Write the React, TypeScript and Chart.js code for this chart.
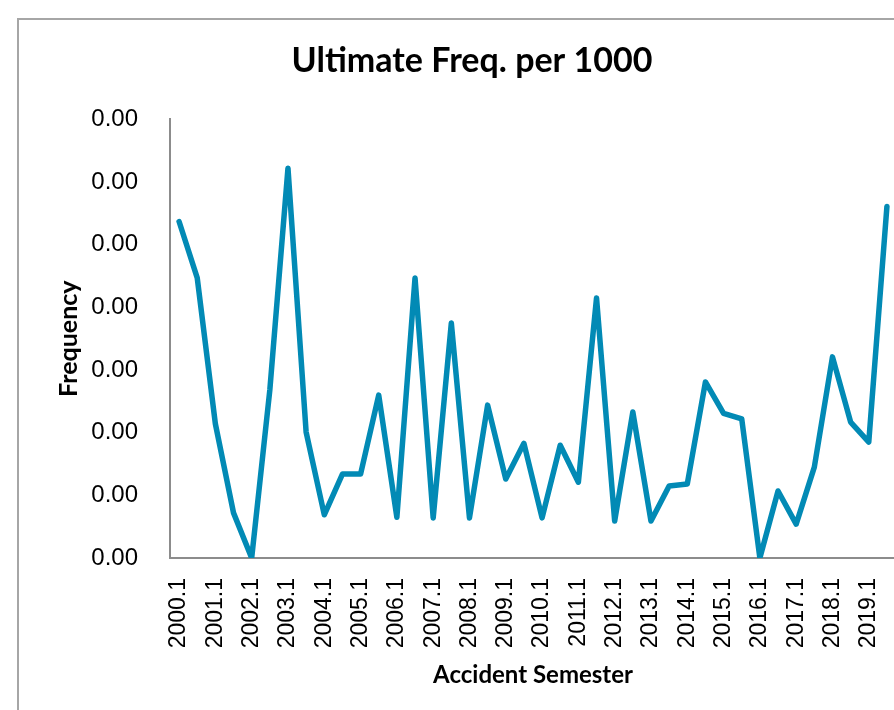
import React, { useEffect, useRef } from "react";
import { Chart, registerables } from "chart.js";

Chart.register(...registerables);

const semesters: string[] = [
  "2000.1", "2000.2", "2001.1", "2001.2", "2002.1", "2002.2", "2003.1", "2003.2",
  "2004.1", "2004.2", "2005.1", "2005.2", "2006.1", "2006.2", "2007.1", "2007.2",
  "2008.1", "2008.2", "2009.1", "2009.2", "2010.1", "2010.2", "2011.1", "2011.2",
  "2012.1", "2012.2", "2013.1", "2013.2", "2014.1", "2014.2", "2015.1", "2015.2",
  "2016.1", "2016.2", "2017.1", "2017.2", "2018.1", "2018.2", "2019.1", "2019.2",
];

const frequency: number[] = [
  0.000537, 0.000447, 0.000214, 0.000072, 0.0, 0.000268, 0.000622, 0.000201,
  0.000069, 0.000134, 0.000134, 0.00026, 0.000065, 0.000447, 0.000064, 0.000375,
  0.000064, 0.000244, 0.000126, 0.000183, 0.000064, 0.00018, 0.000121, 0.000415,
  0.000059, 0.000233, 0.000059, 0.000115, 0.000118, 0.000281, 0.000231, 0.000222,
  0.0, 0.000107, 0.000054, 0.000145, 0.000321, 0.000217, 0.000185, 0.000561,
];

const yMin = 0;
const yMax = 0.0007;
const yStep = 0.0001;

const titleText = "Ultimate Freq. per 1000";
const xTitleText = "Accident Semester";
const yTitleText = "Frequency";

export default function App() {
  const canvasRef = useRef<HTMLCanvasElement | null>(null);

  useEffect(() => {
    if (!canvasRef.current) return;
    const chart = new Chart(canvasRef.current, {
      type: "line",
      data: {
        labels: semesters,
        datasets: [
          {
            data: frequency,
            borderColor: "#028ab5",
            backgroundColor: "#028ab5",
            borderWidth: 5.5,
            pointRadius: 0,
            pointHoverRadius: 0,
            tension: 0,
            borderJoinStyle: "round",
            borderCapStyle: "round",
            fill: false,
          },
        ],
      },
      options: {
        responsive: false,
        animation: false,
        layout: { padding: { left: 48, right: 4, top: 0, bottom: 0 } },
        plugins: {
          legend: { display: false },
          tooltip: { enabled: false },
          title: {
            display: true,
            text: titleText,
            color: "#000",
            font: { family: "Lato", weight: "bold", size: 34, lineHeight: 1.2 },
            padding: { top: 41, bottom: 37.6 },
          },
        },
        scales: {
          x: {
            type: "category",
            offset: true,
            grid: { display: false, drawTicks: false },
            border: { display: true, color: "#8c8c8c", width: 2 },
            ticks: {
              autoSkip: false,
              minRotation: 90,
              maxRotation: 90,
              padding: 20,
              color: "#000",
              font: { family: "Liberation Sans", size: 23 },
              callback: (_v: any, i: number) => (i % 2 === 0 ? semesters[i] : ""),
            },
            title: {
              display: true,
              text: xTitleText,
              color: "#000",
              font: { family: "Lato", weight: "bold", size: 24, lineHeight: 1.2 },
              padding: { top: 0, bottom: 20.6 },
            },
            afterFit: (scale: any) => {
              scale.height = 152;
              scale.paddingLeft = 0;
              scale.paddingRight = 0;
            },
          },
          y: {
            min: yMin,
            max: yMax,
            grid: { display: false, drawTicks: false },
            border: { display: true, color: "#8c8c8c", width: 2 },
            ticks: {
              stepSize: yStep,
              padding: 32,
              color: "#000",
              font: { family: "Liberation Sans", size: 24 },
              callback: (v: any) => Number(v).toFixed(2),
            },
            title: {
              display: true,
              text: yTitleText,
              color: "#000",
              font: { family: "Lato", weight: "bold", size: 25, lineHeight: 1.2 },
              padding: { top: 6, bottom: 0 },
            },
            afterFit: (scale: any) => {
              scale.width = 122;
              scale.paddingTop = 0;
              scale.paddingBottom = 0;
            },
          },
        },
      },
    });
    return () => chart.destroy();
  }, []);

  return (
    <div
      style={{
        position: "fixed",
        left: 0,
        top: 0,
        width: 894,
        height: 710,
        overflow: "hidden",
        background: "#fff",
      }}
    >
      <div
        style={{
          position: "absolute",
          left: 17,
          top: 18,
          width: 980,
          height: 800,
          border: "2px solid #a6a6a6",
        }}
      />
      <canvas
        ref={canvasRef}
        width={900}
        height={710}
        style={{ position: "absolute", left: 0, top: 0, width: 900, height: 710 }}
      />
    </div>
  );
}
